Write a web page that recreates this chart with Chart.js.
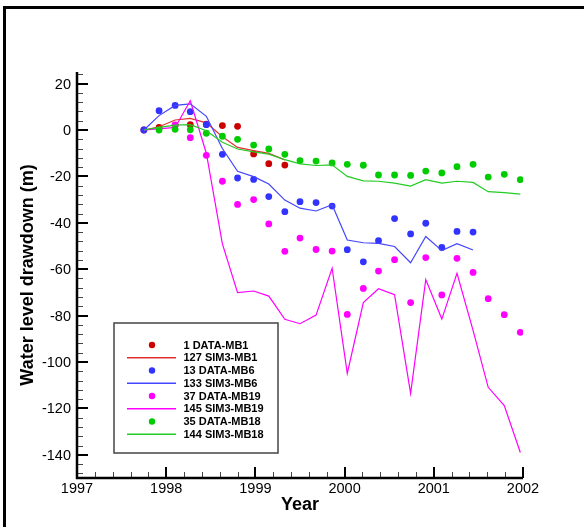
<!DOCTYPE html>
<html>
<head>
<meta charset="utf-8">
<script src="https://cdn.jsdelivr.net/npm/chart.js@4.4.0/dist/chart.umd.min.js"></script>
<style>
  body { margin: 0; background: #fff; }
  #wrap { position: relative; width: 584px; height: 527px; overflow: hidden; }
  #frame { position: absolute; left: 3px; top: 6px; right: 0; bottom: 0;
           border-top: 3px solid #000; border-left: 3px solid #000; pointer-events: none; }
</style>
</head>
<body>
<div id="wrap">
  <canvas id="chart" width="584" height="527"></canvas>
  <div id="frame"></div>
</div>
<script>
// sampling dates (decimal years)
const years = [1997.75, 1997.92, 1998.10, 1998.27, 1998.45, 1998.63, 1998.80, 1998.98, 1999.15, 1999.33,
               1999.50, 1999.68, 1999.86, 2000.03, 2000.21, 2000.38, 2000.56, 2000.74, 2000.91, 2001.09,
               2001.26, 2001.44, 2001.61, 2001.79, 2001.97];

// drawdown (m), null = no value
const mb1Data  = [0, 1.1, 2, 2.3, 2.5, 1.9, 1.6, -10.3, -14.5, -15.1];
const mb1Sim   = [0, 1.4, 4.3, 5, 3.1, -2.9, -7.5, -8.9, -10.1, -12.9];
const mb6Data  = [0, 8.3, 10.6, 7.9, 2.3, -10.5, -20.7, -21.3, -28.7, -35.2, -30.9, -31.3, -32.8,
                  -51.6, -56.8, -47.7, -38.2, -44.8, -40.2, -50.6, -43.7, -44];
const mb6Sim   = [0, 6.2, 10.6, 11.3, 5.9, -8, -17.8, -20.1, -23.3, -30.2, -33.7, -34.9, -32.2,
                  -47.4, -48.6, -48.9, -50.2, -57.2, -45.9, -52, -49, -51.7];
const mb19Data = [null, null, 2.2, -3.3, -10.9, -22.1, -32.1, -30, -40.5, -52.3, -46.6, -51.5, -52.2,
                  -79.5, -68.3, -60.8, -55.9, -74.4, -55, -71.1, -55.3, -61.4, -72.7, -79.6, -87.2];
const mb19Sim  = [0, 0.5, 1.1, 12.6, -10, -49.1, -70.1, -69.4, -71.6, -81.6, -83.5, -79.8, -59.6,
                  -104.9, -74.4, -68.4, -71, -113.5, -64.5, -81.5, -61.8, -86.4, -110.9, -118.8, -139];
const mb18Data = [null, 0, 0.3, 0.1, -1.4, -2.7, -4, -6.5, -8.2, -10.5, -13.2, -13.4, -14.2,
                  -14.8, -15.2, -19.4, -19.4, -19.6, -17.7, -18.5, -15.8, -14.8, -20.3, -19.1, -21.4];
const mb18Sim  = [0, 1.1, 2.1, 2.3, -0.3, -5.3, -8.2, -9.4, -10.4, -12.8, -14.6, -15.3, -15,
                  -20, -21.9, -22.1, -22.9, -24.2, -21.4, -22.9, -22.1, -22.6, -26.6, -27, -27.6];

const xTickLabels = [1997, 1998, 1999, 2000, 2001, 2002];
const yTickLabels = [20, 0, -20, -40, -60, -80, -100, -120, -140];

function toPoints(values) {
  const pts = [];
  values.forEach((v, i) => { if (v !== null) pts.push({ x: years[i], y: v }); });
  return pts;
}

function dots(label, values, color) {
  return { label: label, data: toPoints(values), showLine: false, pointRadius: 3.4,
           pointBackgroundColor: color, pointBorderWidth: 0, borderColor: color, backgroundColor: color };
}
function line(label, values, color) {
  return { label: label, data: toPoints(values), showLine: true, pointRadius: 0,
           borderColor: color, borderWidth: 1.2, backgroundColor: color, fill: false, tension: 0 };
}

const datasets = [
  dots('1 DATA-MB1', mb1Data, '#cc0000'),
  line('127 SIM3-MB1', mb1Sim, '#e03030'),
  dots('13 DATA-MB6', mb6Data, '#3333ff'),
  line('133 SIM3-MB6', mb6Sim, '#4444ff'),
  dots('37 DATA-MB19', mb19Data, '#ff00ff'),
  line('145 SIM3-MB19', mb19Sim, '#ff00ff'),
  dots('35 DATA-MB18', mb18Data, '#00cc00'),
  line('144 SIM3-MB18', mb18Sim, '#22cc22')
];
// later zones are drawn on top
datasets.forEach((d, i) => { d.order = datasets.length - i; });

const FONT = '"Liberation Sans", Arial, sans-serif';

const axesPlugin = {
  id: 'axes',
  afterDraw(chart) {
    const ctx = chart.ctx;
    const xs = chart.scales.x, ys = chart.scales.y;
    const a = chart.chartArea;
    ctx.save();

    // minor ticks
    ctx.strokeStyle = '#444';
    ctx.lineWidth = 1;
    ctx.beginPath();
    for (let v = -148; v <= 24; v += 4) {
      if (v % 20 === 0) continue;
      const y = Math.round(ys.getPixelForValue(v)) + 0.5;
      ctx.moveTo(a.left, y); ctx.lineTo(a.left + 6, y);
    }
    for (let k = 1; k < 25; k++) {
      if (k % 5 === 0) continue;
      const x = Math.round(xs.getPixelForValue(1997 + k * 0.2)) + 0.5;
      ctx.moveTo(x, a.bottom); ctx.lineTo(x, a.bottom - 6);
    }
    ctx.stroke();

    // major ticks
    ctx.strokeStyle = '#000';
    ctx.lineWidth = 2;
    ctx.beginPath();
    yTickLabels.forEach(v => {
      const y = Math.round(ys.getPixelForValue(v));
      ctx.moveTo(a.left, y); ctx.lineTo(a.left + 11, y);
    });
    xTickLabels.forEach(v => {
      const x = Math.round(xs.getPixelForValue(v));
      ctx.moveTo(x, a.bottom); ctx.lineTo(x, a.bottom - 11);
    });
    ctx.stroke();

    // axis lines
    ctx.lineWidth = 2.5;
    ctx.beginPath();
    ctx.moveTo(a.left, a.top);
    ctx.lineTo(a.left, a.bottom);
    ctx.lineTo(a.right, a.bottom);
    ctx.stroke();

    // tick labels
    ctx.fillStyle = '#000';
    ctx.font = '14.5px ' + FONT;
    ctx.textAlign = 'right';
    ctx.textBaseline = 'middle';
    yTickLabels.forEach(v => ctx.fillText(String(v), a.left - 6, ys.getPixelForValue(v) + 1));
    ctx.textAlign = 'center';
    ctx.textBaseline = 'top';
    xTickLabels.forEach(v => ctx.fillText(String(v), xs.getPixelForValue(v), a.bottom + 4));

    // axis titles
    ctx.font = 'bold 18px ' + FONT;
    ctx.textBaseline = 'middle';
    ctx.fillText('Year', (a.left + a.right) / 2, 505);
    ctx.translate(28, (a.top + a.bottom) / 2);
    ctx.rotate(-Math.PI / 2);
    ctx.fillText('Water level drawdown (m)', 0, 0);
    ctx.restore();

    // legend
    ctx.save();
    ctx.fillStyle = '#fff';
    ctx.fillRect(114, 323, 164, 130);
    ctx.strokeStyle = '#444';
    ctx.lineWidth = 1.5;
    ctx.strokeRect(114, 323, 164, 130);
    ctx.font = 'bold 11px ' + FONT;
    ctx.textAlign = 'left';
    ctx.textBaseline = 'middle';
    chart.data.datasets.forEach((d, i) => {
      const y = 345 + i * 12.75;
      if (d.showLine) {
        ctx.strokeStyle = d.borderColor;
        ctx.lineWidth = 1.5;
        ctx.beginPath();
        ctx.moveTo(127, y); ctx.lineTo(176, y);
        ctx.stroke();
      } else {
        ctx.fillStyle = d.pointBackgroundColor;
        ctx.beginPath();
        ctx.arc(152, y, 3.2, 0, Math.PI * 2);
        ctx.fill();
      }
      ctx.fillStyle = '#000';
      ctx.fillText(d.label, 183.5, y + 0.5);
    });
    ctx.restore();
  }
};

new Chart(document.getElementById('chart').getContext('2d'), {
  type: 'scatter',
  data: { datasets: datasets },
  options: {
    responsive: false,
    animation: false,
    devicePixelRatio: 1,
    layout: { padding: { left: 77, right: 61, top: 72, bottom: 49 } },
    plugins: { legend: { display: false }, tooltip: { enabled: false } },
    scales: {
      x: { type: 'linear', min: 1997, max: 2002, display: false },
      y: { type: 'linear', min: -150, max: 25, display: false }
    }
  },
  plugins: [axesPlugin]
});
</script>
</body>
</html>
